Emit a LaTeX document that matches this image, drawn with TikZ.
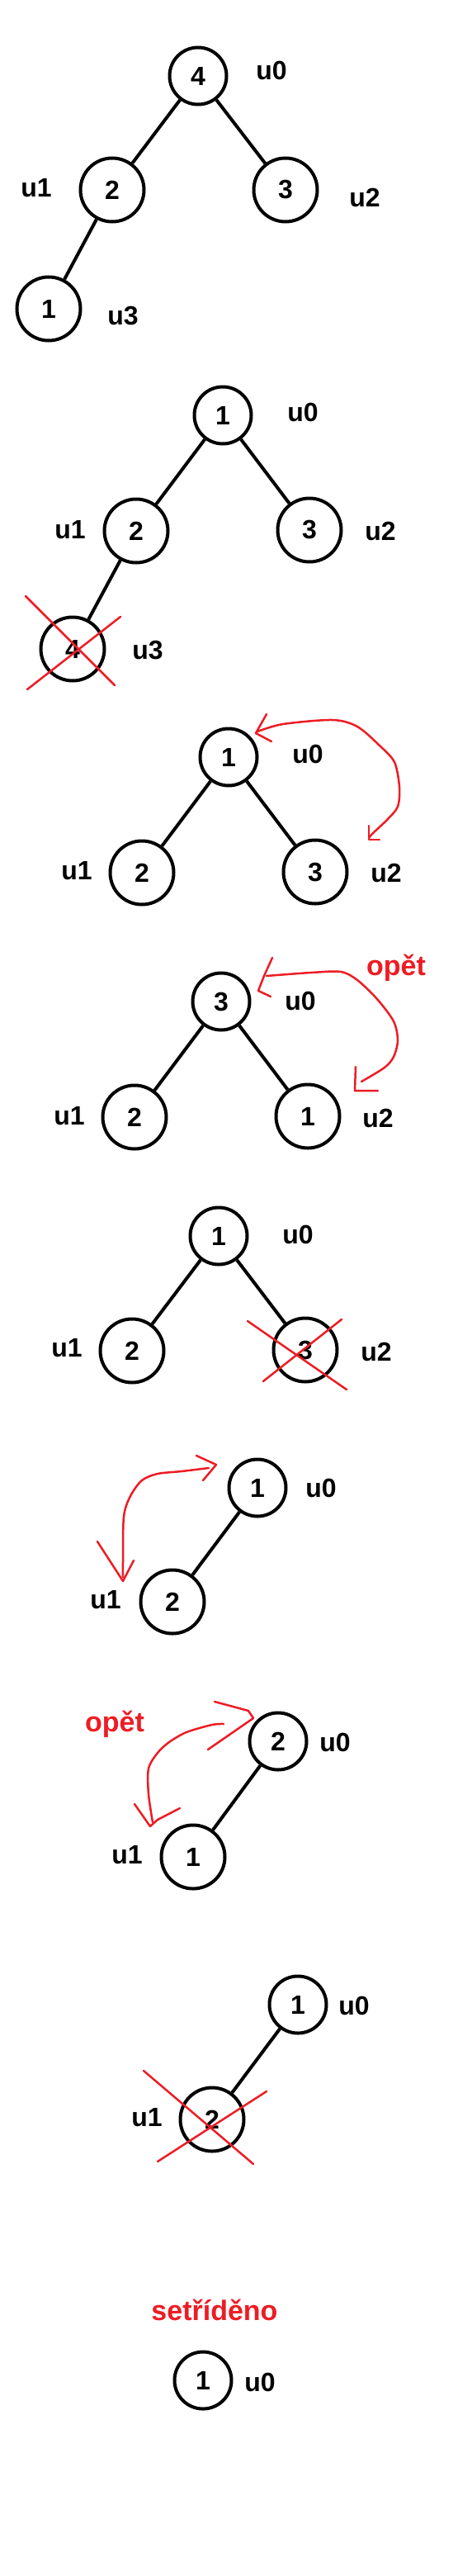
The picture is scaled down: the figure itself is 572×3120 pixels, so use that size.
\documentclass[tikz,border=0pt]{standalone}
\usepackage{fontspec}
\setmainfont{Liberation Sans}
\definecolor{pred}{RGB}{237,28,36}
\begin{document}
\begin{tikzpicture}[x=1pt,y=-1pt,
  nd/.style={circle,draw,line width=4pt,inner sep=0pt,font=\fontsize{32}{32}\selectfont\bfseries},
  sm/.style={nd,minimum size=69pt},
  bg/.style={nd,minimum size=77pt},
  lbl/.style={inner sep=0pt,font=\fontsize{32}{32}\selectfont\bfseries},
  edge/.style={line width=4pt},
  ann/.style={draw=pred,line width=2.5pt,line cap=round,line join=round},
  rtxt/.style={text=pred,inner sep=0pt,font=\fontsize{34}{34}\selectfont\bfseries}
]
\path[use as bounding box] (0,0) rectangle (572,3120);

% ---------- panel 1
\node[sm] (a0) at (240,92) {4};
\node[bg] (a1) at (136,230) {2};
\node[bg] (a2) at (346,230) {3};
\node[bg] (a3) at (59,374) {1};
\node[lbl] (la0) at (329,85) {u0};
\node[lbl] (la1) at (44,228) {u1};
\node[lbl] (la2) at (442,239) {u2};
\node[lbl] (la3) at (149,383) {u3};
\draw[edge] (a0) -- (a1);
\draw[edge] (a0) -- (a2);
\draw[edge] (a1) -- (a3);

% ---------- panel 2
\node[sm] (b0) at (270,503) {1};
\node[bg] (b1) at (165,643) {2};
\node[bg] (b2) at (375,642) {3};
\node[bg] (b3) at (88,786) {4};
\node[lbl] (lb0) at (367,499) {u0};
\node[lbl] (lb1) at (85,642) {u1};
\node[lbl] (lb2) at (461,643) {u2};
\node[lbl] (lb3) at (179,788) {u3};
\draw[edge] (b0) -- (b1);
\draw[edge] (b0) -- (b2);
\draw[edge] (b1) -- (b3);
\draw[ann] (31,722) -- (139,830);
\draw[ann] (33,835) -- (146,747);

% ---------- panel 3
\node[sm] (c0) at (277,917) {1};
\node[bg] (c1) at (172,1057) {2};
\node[bg] (c2) at (382,1056) {3};
\node[lbl] (lc0) at (373,913) {u0};
\node[lbl] (lc1) at (93,1055) {u1};
\node[lbl] (lc2) at (468,1057) {u2};
\draw[edge] (c0) -- (c1);
\draw[edge] (c0) -- (c2);
\draw[ann] plot[smooth] coordinates {(312,886) (343,877) (403,872) (433,880) (460,903) (478,923) (484,953) (482,977) (469,993) (451,1010) (447,1015)};
\draw[ann] (323,865) -- (310,888) -- (329,898);
\draw[ann] (447,1000) -- (447,1017) -- (460,1017);

% ---------- panel 4
\node[sm] (d0) at (268,1213) {3};
\node[bg] (d1) at (163,1353) {2};
\node[bg] (d2) at (373,1352) {1};
\node[lbl] (ld0) at (364,1212) {u0};
\node[lbl] (ld1) at (84,1352) {u1};
\node[lbl] (ld2) at (458,1354) {u2};
\node[rtxt] (od) at (480,1172) {opět};
\draw[edge] (d0) -- (d1);
\draw[edge] (d0) -- (d2);
\draw[ann] plot[smooth] coordinates {(323,1182) (377,1178) (413,1177) (433,1187) (457,1210) (477,1237) (482,1260) (477,1280) (466,1293) (438,1310)};
\draw[ann] (330,1160) -- (320,1182) -- (313,1200) -- (328,1207);
\draw[ann] (431,1292) -- (430,1321) -- (458,1321);

% ---------- panel 5
\node[sm] (e0) at (265,1497) {1};
\node[bg] (e1) at (160,1636) {2};
\node[bg] (e2) at (370,1635) {3};
\node[lbl] (le0) at (361,1495) {u0};
\node[lbl] (le1) at (81,1633) {u1};
\node[lbl] (le2) at (456,1637) {u2};
\draw[edge] (e0) -- (e1);
\draw[edge] (e0) -- (e2);
\draw[ann] (300,1600) -- (420,1683);
\draw[ann] (319,1673) -- (414,1598);

% ---------- panel 6
\node[sm] (f0) at (312,1802) {1};
\node[bg] (f1) at (209,1940) {2};
\node[lbl] (lf0) at (389,1802) {u0};
\node[lbl] (lf1) at (128,1938) {u1};
\draw[edge] (f0) -- (f1);
\draw[ann] plot[smooth] coordinates {(253,1778) (220,1782) (191,1785) (172,1793) (158,1812) (150,1837) (149,1893) (149,1910)};
\draw[ann] (238,1763) -- (262,1774) -- (246,1793);
\draw[ann] (118,1867) -- (149,1915) -- (162,1890);

% ---------- panel 7
\node[sm] (g0) at (337,2109) {2};
\node[bg] (g1) at (234,2249) {1};
\node[lbl] (lg0) at (406,2110) {u0};
\node[lbl] (lg1) at (154,2247) {u1};
\node[rtxt] (og) at (139,2088) {opět};
\draw[edge] (g0) -- (g1);
\draw[ann] plot[smooth] coordinates {(271,2088) (257,2089) (226,2098) (205,2110) (191,2123) (180,2142) (180,2173) (185,2207)};
\draw[ann] (260,2061) -- (301,2072) -- (307,2081) -- (252,2119);
\draw[ann] (163,2185) -- (182,2212) -- (191,2204) -- (218,2190);

% ---------- panel 8
\node[sm] (h0) at (361,2428) {1};
\node[bg] (h1) at (257,2567) {2};
\node[lbl] (lh0) at (429,2429) {u0};
\node[lbl] (lh1) at (178,2565) {u1};
\draw[edge] (h0) -- (h1);
\draw[ann] (174,2508) -- (307,2621);
\draw[ann] (191,2618) -- (323,2533);

% ---------- panel 9
\node[rtxt] (si) at (260,2798) {setříděno};
\node[sm] (i0) at (246,2883) {1};
\node[lbl] (li0) at (315,2885) {u0};
\end{tikzpicture}
\end{document}
